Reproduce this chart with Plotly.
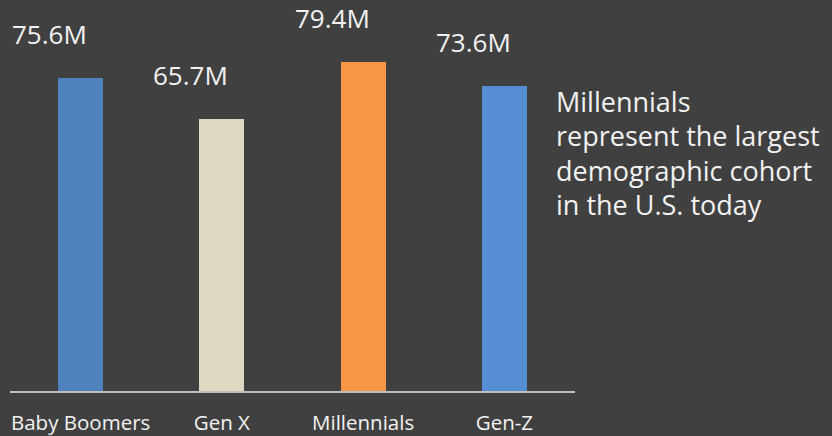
import plotly.graph_objects as go

categories = ["Baby Boomers", "Gen X", "Millennials", "Gen-Z"]
values = [75.6, 65.7, 79.4, 73.6]
value_labels = ["75.6M", "65.7M", "79.4M", "73.6M"]
bar_colors = ["#4F81BD", "#DDD9C3", "#F79646", "#558ED5"]
note_lines = ["Millennials", "represent the largest", "demographic cohort", "in the U.S. today"]

W, H = 832, 436
BG = "#404040"
FONT = "Open Sans"

fig = go.Figure()
fig.add_trace(go.Bar(
    x=categories, y=values, marker=dict(color=bar_colors, line=dict(width=0)),
    width=0.318, hoverinfo="skip",
))

for c, v, lab in zip(categories, values, value_labels):
    fig.add_annotation(x=c, y=v, text=lab, showarrow=False, xref="x", yref="y",
                       xanchor="center", yanchor="bottom", xshift=-31, yshift=24,
                       font=dict(family=FONT, size=26, color="#F2F2F2"))

for i, line in enumerate(note_lines):
    fig.add_annotation(x=554 / W, y=1 - (113 + i * 38.3) / H, xref="paper", yref="paper",
                       text=line, showarrow=False, xanchor="left", yanchor="middle",
                       font=dict(family=FONT, size=27, color="#F2F2F2"))

fig.update_layout(
    width=W, height=H, paper_bgcolor=BG, plot_bgcolor=BG,
    margin=dict(l=0, r=0, t=0, b=45),
    showlegend=False, bargap=0,
    xaxis=dict(domain=[10 / W, 575 / W], range=[-0.5, 3.5], showgrid=False, zeroline=False,
               showline=True, linecolor="#BFBFBF", linewidth=2, ticks="",
               tickfont=dict(family=FONT, size=20.5, color="#F2F2F2"), ticklabelstandoff=12),
    yaxis=dict(range=[0, 391 / 4.14], visible=False, showgrid=False, zeroline=False),
)

fig.write_html("out.html", config={"displayModeBar": False},
               post_script="document.body.style.margin='0';document.body.style.overflow='hidden';"
                           "document.body.style.background='#404040';")
